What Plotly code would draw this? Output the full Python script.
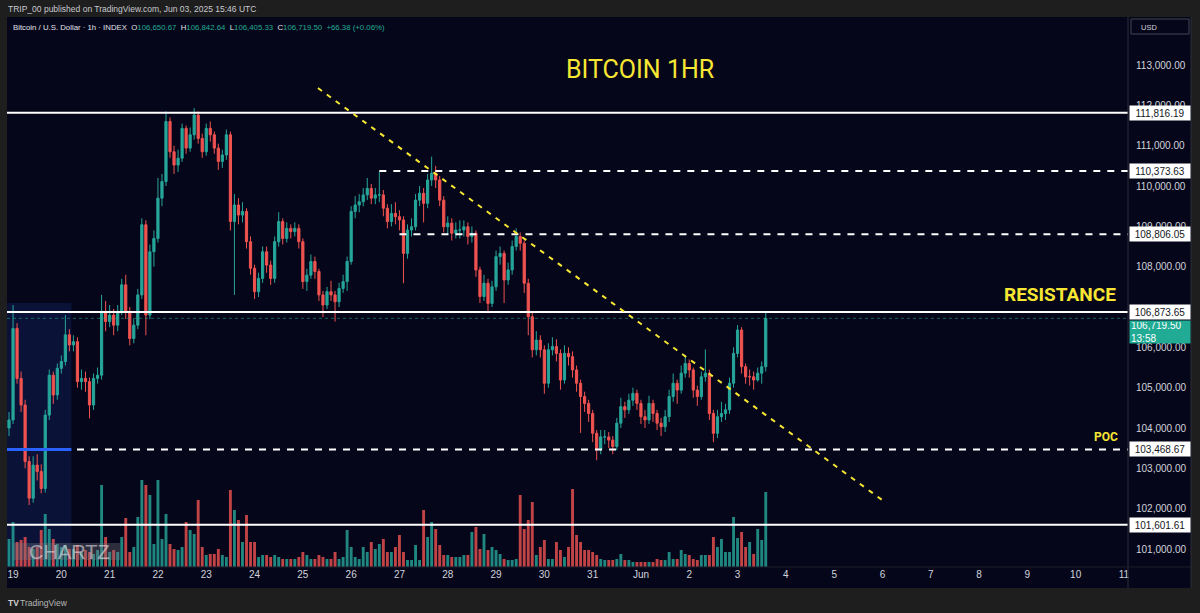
import pandas as pd
import plotly.graph_objects as go

# ---------------- data (BTC / USD index, 2-hour candles) ----------------
start_time = "2025-05-18 22:00"
first_open = 104000

closes = [
    104200, 106470, 105230, 104570, 103170, 102260, 103080, 102920, 102500, 104320,
    105310, 104820, 105480, 105650, 106310, 106060, 106140, 105150, 105230, 105150,
    104570, 105230, 105310, 106890, 106640, 106800, 106550, 106890, 107550, 106890,
    106220, 106550, 107300, 109040, 106800, 108370, 108700, 109700, 110110, 111600,
    110850, 110520, 110690, 111430, 110940, 111270, 111760, 111180, 110850, 111430,
    111270, 110940, 110610, 110770, 111270, 109120, 109530, 109280, 109370, 108620,
    107960, 107380, 107710, 108370, 108040, 107710, 108620, 109120, 108700, 108950,
    108870, 108950, 108620, 107630, 107790, 108130, 107880, 107300, 107050, 107380,
    107300, 107130, 107460, 107630, 108130, 109370, 109530, 109610, 109780, 109940,
    109700, 109780, 109780, 109450, 109120, 109320, 109240, 109160, 108330, 108910,
    108990, 109650, 109820, 109570, 110150, 110320, 110150, 109650, 108990, 109080,
    108830, 108910, 108910, 108990, 108750, 108830, 107920, 107260, 107590, 107090,
    107500, 108250, 108330, 107670, 107920, 108500, 108750, 108580, 107590, 106760,
    105940, 106180, 105940, 105110, 105940, 106020, 105850, 105190, 105850, 105770,
    105440, 105110, 104780, 104610, 104360, 103870, 103460, 103780, 103780, 103700,
    103540, 104120, 104530, 104450, 104690, 104860, 104610, 104280, 104200, 104610,
    104360, 104120, 104030, 104280, 104780, 105110, 104940, 105360, 105600, 105440,
    104940, 104780, 105270, 105360, 104360, 103870, 104280, 104360, 104450, 105110,
    105850, 106430, 105520, 105270, 105270, 105190, 105360, 105520, 106720,
]
highs = [
    104400, 107050, 106600, 105400, 104700, 103300, 103300, 103350, 103100, 104450,
    105450, 105400, 105600, 105800, 106800, 106450, 106300, 106250, 105450, 105400,
    105250, 105350, 105500, 107300, 107150, 107050, 106950, 107050, 107700, 107800,
    107000, 106700, 107450, 109200, 109150, 108550, 108900, 110200, 110300, 111850,
    111700, 111000, 110900, 111550, 111500, 111450, 111930, 111850, 111300, 111550,
    111600, 111350, 111050, 110900, 111400, 111350, 109800, 109700, 109600, 109450,
    108750, 108050, 107850, 108500, 108500, 108150, 108750, 109350, 109200, 109100,
    109050, 109100, 109050, 108700, 107950, 108300, 108250, 107950, 107400, 107500,
    107650, 107400, 107600, 107800, 108250, 109500, 109750, 109800, 109950, 110200,
    110050, 109950, 110360, 109900, 109550, 109550, 109600, 109400, 109250, 109050,
    109200, 109800, 110000, 109950, 110300, 110730, 110500, 110250, 109750, 109250,
    109200, 109100, 109150, 109150, 109100, 109000, 108900, 108000, 107800, 107700,
    107650, 108400, 108500, 108400, 108100, 108650, 108950, 108850, 108650, 107700,
    106850, 106400, 106300, 106050, 106100, 106250, 106200, 105950, 106050, 106000,
    105900, 105550, 105200, 104900, 104700, 104450, 103950, 103950, 103950, 103900,
    103800, 104250, 104750, 104650, 104850, 105000, 104950, 104700, 104450, 104800,
    104700, 104450, 104250, 104450, 104950, 105350, 105200, 105550, 105800, 105700,
    105500, 105050, 105400, 105950, 105450, 104450, 104450, 104650, 104600, 105250,
    106000, 106550, 106500, 105600, 105450, 105400, 105500, 105650, 106880,
]
lows = [
    103800, 104100, 105100, 104400, 103000, 102090, 102150, 102700, 102380, 102400,
    104200, 104600, 104700, 105350, 105550, 105900, 105900, 105000, 104950, 104900,
    104240, 104450, 105100, 105200, 106400, 106500, 106300, 106400, 106800, 106700,
    106050, 106100, 106450, 107200, 106300, 106700, 108000, 108600, 109500, 110000,
    110700, 110300, 110350, 110600, 110800, 110850, 111150, 111050, 110700, 110750,
    111100, 110800, 110400, 110450, 110650, 108900, 107300, 109050, 109100, 108450,
    107800, 107200, 107250, 107600, 107850, 107550, 107600, 108500, 108550, 108600,
    108700, 108750, 108450, 107450, 107400, 107700, 107700, 107150, 106750, 106950,
    107150, 106640, 107000, 107350, 107400, 108050, 109200, 109350, 109500, 109650,
    109550, 109550, 109600, 109250, 108950, 109000, 109050, 108900, 107590, 108200,
    108750, 108900, 109500, 109100, 109450, 110000, 109950, 109500, 108850, 108800,
    108650, 108700, 108700, 108750, 108550, 108600, 107750, 107100, 107150, 106850,
    107000, 107400, 108050, 107100, 107550, 107800, 108400, 108400, 107350, 106300,
    105750, 105800, 105750, 104850, 105000, 105800, 105650, 104950, 105100, 105550,
    105250, 104900, 103880, 104400, 104150, 103650, 103200, 103350, 103600, 103500,
    103350, 103450, 104000, 104250, 104350, 104550, 104450, 104100, 104000, 104100,
    104150, 103950, 103800, 103900, 104150, 104650, 104600, 104850, 105250, 105250,
    104750, 104550, 104700, 105150, 104200, 103650, 103750, 104150, 104200, 104350,
    105000, 105750, 105350, 105100, 105050, 104950, 105150, 105100, 105400,
]
volumes = [
    28, 45, 25, 27, 30, 20, 18, 20, 37, 53,
    38, 28, 23, 20, 22, 18, 18, 22, 15, 17,
    15, 13, 17, 82, 30, 15, 17, 15, 30, 49,
    15, 20, 50, 87, 82, 72, 23, 87, 28, 53,
    23, 18, 17, 20, 45, 37, 33, 67, 20, 12,
    13, 13, 18, 12, 10, 77, 57, 47, 25, 52,
    25, 25, 10, 12, 12, 10, 12, 10, 8, 8,
    8, 8, 10, 15, 12, 8, 8, 12, 10, 8,
    8, 15, 8, 10, 37, 20, 10, 8, 20, 15,
    25, 18, 23, 28, 15, 15, 20, 32, 15, 7,
    7, 22, 7, 57, 30, 45, 38, 22, 12, 12,
    10, 10, 10, 12, 12, 35, 40, 18, 33, 17,
    20, 17, 13, 8, 7, 7, 8, 72, 38, 47,
    65, 12, 20, 27, 8, 8, 25, 17, 10, 20,
    78, 32, 25, 17, 17, 15, 12, 8, 7, 7,
    7, 8, 13, 7, 7, 5, 5, 5, 5, 5,
    5, 8, 7, 7, 15, 8, 8, 17, 13, 12,
    8, 7, 12, 12, 12, 30, 20, 28, 15, 15,
    50, 29, 35, 20, 25, 13, 38, 27, 75,
]

price_ticks = [101000, 102000, 103000, 104000, 105000, 106000,
               108000, 109000, 110000, 111000, 112000, 113000]
day_ticks = list(pd.date_range("2025-05-19", "2025-06-11", freq="D"))
day_labels = ["Jun" if (d.month == 6 and d.day == 1) else str(d.day) for d in day_ticks]

levels_solid = [111816.19, 106873.65, 101601.61]
levels_dashed = [110373.63, 108806.05, 103468.67]
levels_dashed_start = ["2025-05-26 14:00", "2025-05-27 00:00", None]
poc_level = 103468.67
last_price = 106719.50
countdown = "13:58"
trend_start = ("2025-05-25 07:30", 112430)
trend_end = ("2025-06-05 23:50", 102215)
vp_box_end = "2025-05-20 05:00"
vp_box_top = 107100

x_range = ["2025-05-18 21:00", "2025-06-11 02:00"]
y_range = [100554, 114191]
vol_range = [0, 550]

# ---------------- styling ----------------
W, H = 1200, 613
PL, PR, PT, PB = 7, 1128, 17, 567
NAVY = "#06061a"
FRAME = "#1e1e1e"
UP, DOWN = "#26a69a", "#ef5350"
TXT = "#d1d4dc"
YEL = "#f7e733"
FONT = "Liberation Sans, Arial, sans-serif"


def pxx(px):
    return (px - PL) / (PR - PL)


def pxy(py):
    return (PB - py) / (PB - PT)


times = pd.date_range(start_time, periods=len(closes), freq="2h")
opens = [first_open] + closes[:-1]
vol_colors = ["rgba(38,166,154,0.8)" if c >= o else "rgba(239,83,80,0.8)"
              for o, c in zip(opens, closes)]

fig = go.Figure()
fig.add_trace(go.Bar(x=times, y=volumes, marker_color=vol_colors, marker_line_width=0,
                     width=2 * 3600 * 1000 * 0.72, yaxis="y", hoverinfo="skip",
                     showlegend=False))
fig.add_trace(go.Candlestick(
    x=times, open=opens, high=highs, low=lows, close=closes, yaxis="y2",
    increasing=dict(line=dict(color=UP, width=1), fillcolor=UP),
    decreasing=dict(line=dict(color=DOWN, width=1), fillcolor=DOWN),
    whiskerwidth=0, hoverinfo="skip", showlegend=False))

shapes = []
# navy chart background incl. axis areas
shapes.append(dict(type="rect", xref="paper", yref="paper", x0=pxx(PL), x1=pxx(1191),
                   y0=pxy(588), y1=pxy(PT), fillcolor=NAVY, line=dict(width=0), layer="below"))
# volume-profile shaded box
shapes.append(dict(type="rect", xref="x", yref="y2", x0=x_range[0], x1=vp_box_end,
                   y0=y_range[0], y1=vp_box_top, fillcolor="rgba(41,98,255,0.13)",
                   line=dict(width=0), layer="below"))
# current price dotted line
shapes.append(dict(type="line", xref="paper", yref="y2", x0=0, x1=1, y0=last_price, y1=last_price,
                   line=dict(color="rgba(34,171,148,0.55)", width=1, dash="dot")))
for lv in levels_solid:
    shapes.append(dict(type="line", xref="paper", yref="y2", x0=0, x1=1, y0=lv, y1=lv,
                       line=dict(color="white", width=2)))
for lv, st in zip(levels_dashed, levels_dashed_start):
    if st is None:
        shapes.append(dict(type="line", xref="paper", yref="y2", x0=0, x1=1, y0=lv, y1=lv,
                           line=dict(color="white", width=2, dash="7px,7px")))
    else:
        shapes.append(dict(type="line", xref="x", yref="y2", x0=st, x1=x_range[1], y0=lv, y1=lv,
                           line=dict(color="white", width=2, dash="7px,7px")))
# POC blue segment
shapes.append(dict(type="line", xref="x", yref="y2", x0=x_range[0], x1=vp_box_end,
                   y0=poc_level, y1=poc_level, line=dict(color="#2962ff", width=3)))
# trend line
shapes.append(dict(type="line", xref="x", yref="y2", x0=trend_start[0], y0=trend_start[1],
                   x1=trend_end[0], y1=trend_end[1],
                   line=dict(color=YEL, width=2, dash="5px,6px")))
# separators
SEP = "#2a2e39"
shapes.append(dict(type="line", xref="paper", yref="paper", x0=1, x1=1, y0=pxy(588), y1=pxy(PT),
                   line=dict(color=SEP, width=1)))
shapes.append(dict(type="line", xref="paper", yref="paper", x0=0, x1=pxx(1191), y0=0, y1=0,
                   line=dict(color="#1a1c28", width=1)))
shapes.append(dict(type="line", xref="paper", yref="paper", x0=pxx(1191), x1=pxx(1191),
                   y0=pxy(588), y1=pxy(PT), line=dict(color=SEP, width=1)))
# CHARTZ watermark box
shapes.append(dict(type="rect", xref="paper", yref="paper", x0=pxx(13), x1=pxx(120),
                   y0=pxy(560), y1=pxy(543), fillcolor="rgba(120,120,130,0.35)",
                   line=dict(width=0)))
# USD box
shapes.append(dict(type="rect", xref="paper", yref="paper", x0=pxx(1131), x1=pxx(1189),
                   y0=pxy(34), y1=pxy(19), fillcolor=NAVY, line=dict(color="#434651", width=1)))

ann = []


def label(text, x, y, size, color, xanchor="left", yanchor="middle", **kw):
    ann.append(dict(text=text, x=x, y=y, xref="paper", yref="paper", xanchor=xanchor,
                    yanchor=yanchor, showarrow=False, font=dict(size=size, color=color,
                                                                family=kw.pop("family", FONT)), **kw))


label("TRIP_00 published on TradingView.com, Jun 03, 2025 15:46 UTC", pxx(6), pxy(9), 8.5, "#c8cad0")
G = "#22ab94"
NB = "\u00a0"
legend_txt = (f"Bitcoin / U.S. Dollar · 1h · INDEX{NB}{NB}"
              f"O<span style='color:{G}'>106,650.67</span>{NB}{NB}"
              f"H<span style='color:{G}'>106,842.64</span>{NB}{NB}"
              f"L<span style='color:{G}'>106,405.33</span>{NB}{NB}"
              f"C<span style='color:{G}'>106,719.50</span>{NB}{NB}"
              f"<span style='color:{G}'>+66.38 (+0.06%)</span>")
label(legend_txt, pxx(11), pxy(27), 7.8, "#e0e3eb")
label("USD", pxx(1139), pxy(27), 7.5, TXT)
label("BITCOIN 1HR", pxx(640), pxy(70), 25, YEL, xanchor="center", family="Roboto, sans-serif")
label("<b>RESISTANCE</b>", pxx(1118), pxy(295), 19, YEL, xanchor="right", family="Roboto, sans-serif")
label("<b>POC</b>", pxx(1120), pxy(437), 12, YEL, xanchor="right", family="Roboto, sans-serif")
label("CHARTZ", pxx(27), pxy(551.5), 20, "rgba(225,225,230,0.6)")
label("<b>TV</b>", pxx(6), pxy(603), 8.5, "#d0d0d0")
label("TradingView", pxx(18), pxy(603), 8.5, "#b8b8b8")

# price-scale labels for levels
for lv in levels_solid + levels_dashed:
    ann.append(dict(text=f"{lv:,.2f}", x=1, y=lv, xref="paper", yref="y2", xanchor="left",
                    yanchor="middle", xshift=1, showarrow=False, bgcolor="white",
                    width=58, height=12, borderpad=1, align="center",
                    font=dict(size=10, color="#131722", family=FONT)))
ann.append(dict(text=f"{last_price:,.2f}<br>{countdown}", x=1, y=last_price, xref="paper", yref="y2",
                xanchor="left", yanchor="top", xshift=1, yshift=-2, showarrow=False,
                bgcolor="#22ab94", width=58, height=20, borderpad=1, align="left",
                font=dict(size=10, color="white", family=FONT)))

fig.update_layout(
    width=W, height=H,
    margin=dict(l=PL, r=W - PR, t=PT, b=H - PB),
    paper_bgcolor=FRAME, plot_bgcolor=NAVY,
    showlegend=False, hovermode=False, boxgap=0.22,
    shapes=shapes, annotations=ann,
    xaxis=dict(type="date", range=x_range, rangeslider=dict(visible=False),
               tickvals=day_ticks, ticktext=day_labels, ticks="", showgrid=False,
               zeroline=False, showline=False,
               tickfont=dict(size=10, color=TXT, family=FONT)),
    yaxis=dict(range=vol_range, showticklabels=False, showgrid=False, zeroline=False,
               showline=False, ticks=""),
    yaxis2=dict(overlaying="y", side="right", range=y_range, tickvals=price_ticks,
                ticktext=[f"{v:,.2f}" for v in price_ticks], showgrid=False, zeroline=False,
                showline=False, ticks="", ticklabelstandoff=7,
                tickfont=dict(size=10, color=TXT, family=FONT)),
)

fig.write_html("out.html")
